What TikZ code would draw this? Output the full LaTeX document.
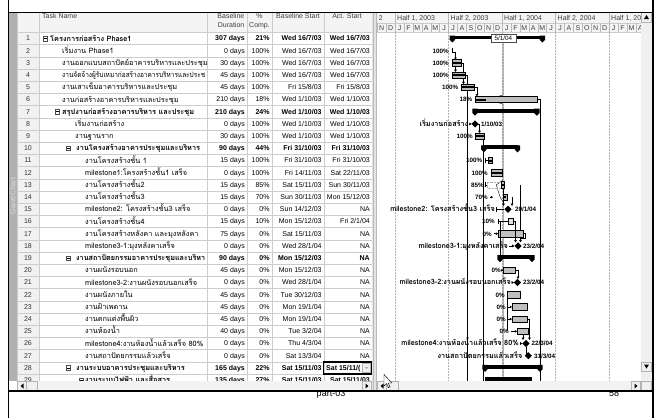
\documentclass[tikz,border=0pt]{standalone}
\usepackage{fontspec}
\usepackage{graphicx}
\setmainfont{Liberation Sans}
\newfontfamily\thai[Script=Thai]{Loma}
\usetikzlibrary{arrows.meta}
\newcommand\tsz{\fontsize{7}{8}\selectfont}
\newcommand\thsz{\fontsize{7.35}{9}\selectfont}
\newcommand\gsz{\fontsize{6.3}{7}\selectfont}
\newcommand\gthsz{\fontsize{7.3}{8}\selectfont}
% vertical centre of table row #1
\newcommand\Y[1]{26.3+#1*12.2}
% table row: number, text x, weight, name, duration, complete, baseline start, actual start
\newcommand\trow[8]{%
  \node[rnum] at (28,\Y{#1}) {#1};
  \begin{scope}
    \clip (39.5,\Y{#1}-6) rectangle (206.5,\Y{#1}+6);
    \node[tname] at (#2,\Y{#1}+2.6) {\thai\thsz #3{}#4};
  \end{scope}
  \node[tval] at (245,\Y{#1}+2.4) {#3{}#5};
  \node[tval] at (269.8,\Y{#1}+2.4) {#3{}#6};
  \node[tval] at (321.8,\Y{#1}+2.4) {#3{}#7};
  \node[tval] at (370,\Y{#1}+2.4) {#3{}#8};
}
% outline (collapse) box: row, x
\newcommand\obox[2]{%
  \draw[gray!60!black, line width=0.4, fill=white] (#2,\Y{#1}-2.3) rectangle (#2+4.6,\Y{#1}+2.3);
  \draw[black, line width=0.45] (#2+1.1,\Y{#1}) -- (#2+3.5,\Y{#1});
}
% summary bar: row, start, finish
\newcommand\sbar[3]{%
  \fill[black] (#2,\Y{#1}-3) rectangle (#3,\Y{#1}+0.8);
  \fill[black] (#2-2.7,\Y{#1}-3) -- (#2+2.7,\Y{#1}-3) -- (#2+2.7,\Y{#1}+1.3) -- (#2,\Y{#1}+4) -- (#2-2.7,\Y{#1}+1.3) -- cycle;
  \fill[black] (#3-2.7,\Y{#1}-3) -- (#3+2.7,\Y{#1}-3) -- (#3+2.7,\Y{#1}+1.3) -- (#3,\Y{#1}+4) -- (#3-2.7,\Y{#1}+1.3) -- cycle;
}
% task bar: row, start, finish, done fraction, fill
\newcommand\tbar[5]{%
  \filldraw[fill=#5, draw=black, line width=0.5] (#2,\Y{#1}-3.2) rectangle (#3,\Y{#1}+3.2);
  \fill[black] (#2,\Y{#1}-1) rectangle ({#2+#4*(#3-#2)},\Y{#1}+1);
}
% milestone diamond: row, x
\newcommand\mdia[2]{%
  \fill[black] (#2,\Y{#1}-3.6) -- (#2+3.6,\Y{#1}) -- (#2,\Y{#1}+3.6) -- (#2-3.6,\Y{#1}) -- cycle;
}
\begin{document}
\begin{tikzpicture}[x=1pt,y=-1pt,
  rnum/.style={font=\tsz, inner sep=0pt, text=black!80},
  tname/.style={inner sep=0pt, anchor=base west},
  tval/.style={font=\tsz, inner sep=0pt, anchor=base east},
  hd/.style={font=\tsz, inner sep=0pt, text=black!75},
  gridln/.style={gray!40, line width=0.4},
  glab/.style={font=\gsz\bfseries, inner sep=0pt, anchor=base east},
  gdate/.style={font=\gsz\bfseries, inner sep=0pt, anchor=base west},
  mlab/.style={font=\thai\gthsz\bfseries, inner sep=0pt, anchor=base east},
  link/.style={line width=0.45, -{Triangle[length=2.2pt,width=2.6pt]}},
  plain/.style={line width=0.45},
  dashgrid/.style={gray!60, line width=0.4, dash pattern=on 1.5pt off 1.5pt},
  sbtn/.style={fill=gray!12, draw=gray!60, line width=0.4},
]
\useasboundingbox (0,0) rectangle (663,418);
\fill[white] (0,0) rectangle (663,418);

% page footer, partly hidden under the screen shot
\node[font=\fontsize{9}{10}\selectfont, inner sep=0pt, anchor=base] (foot) at (331,396.3) {part-03};
\node[font=\fontsize{9}{10}\selectfont, inner sep=0pt, anchor=base] (pageno) at (614,396.3) {58};

% ---------- screen shot ----------
\fill[white] (8,12) rectangle (652,391);
% view bar
\fill[gray!62] (8,12) rectangle (17,381);
\node[rotate=90, font=\tsz, text=gray!25, inner sep=0pt] (view) at (12.8,196) {Gantt Chart};

% table header and row-number column
\fill[gray!9] (17,12) rectangle (372,32.4);
\fill[gray!11] (17,32.4) rectangle (39,381);
\foreach \k in {0,...,29} \draw[gridln] (17,32.4+\k*12.2) -- (372,32.4+\k*12.2);
\foreach \xx in {17,39,207,247,272,324,372} \draw[gridln] (\xx,12) -- (\xx,381);

\node[hd, anchor=base west] (h1) at (42,18.5) {Task Name};
\node[hd, anchor=base east] (h2) at (244.5,18.5) {Baseline};
\node[hd, anchor=base east] (h2b) at (244.5,27) {Duration};
\node[hd, anchor=base] (h3) at (259.5,18.5) {\%};
\node[hd, anchor=base] (h3b) at (259.5,27) {Comp.};
\node[hd, anchor=base] (h4) at (298,18.5) {Baseline Start};
\node[hd, anchor=base] (h5) at (347,18.5) {Act. Start};

% table rows
\trow{1}{50}{\bfseries}{โครงการก่อสร้าง Phase1}{307 days}{21\%}{Wed 16/7/03}{Wed 16/7/03}
\trow{2}{62}{}{เริ่มงาน Phase1}{0 days}{100\%}{Wed 16/7/03}{Wed 16/7/03}
\trow{3}{62}{}{งานออกแบบสถาปัตย์อาคารบริหารและประชุม}{30 days}{100\%}{Wed 16/7/03}{Wed 16/7/03}
\trow{4}{62}{}{\resizebox{143pt}{\height}{งานจัดจ้างผู้รับเหมาก่อสร้างอาคารบริหารและประช}}{45 days}{100\%}{Wed 16/7/03}{Wed 16/7/03}
\trow{5}{62}{}{งานเสาเข็มอาคารบริหารและประชุม}{45 days}{100\%}{Fri 15/8/03}{Fri 15/8/03}
\trow{6}{62}{}{งานก่อสร้างอาคารบริหารและประชุม}{210 days}{18\%}{Wed 1/10/03}{Wed 1/10/03}
\trow{7}{62}{\bfseries}{สรุปงานก่อสร้างอาคารบริหาร และประชุม}{210 days}{24\%}{Wed 1/10/03}{Wed 1/10/03}
\trow{8}{75}{}{เริ่มงานก่อสร้าง}{0 days}{100\%}{Wed 1/10/03}{Wed 1/10/03}
\trow{9}{75}{}{งานฐานราก}{30 days}{100\%}{Wed 1/10/03}{Wed 1/10/03}
\trow{10}{76}{\bfseries}{งานโครงสร้างอาคารประชุมและบริหาร}{90 days}{44\%}{Fri 31/10/03}{Fri 31/10/03}
\trow{11}{85}{}{งานโครงสร้างชั้น 1}{15 days}{100\%}{Fri 31/10/03}{Fri 31/10/03}
\trow{12}{85}{}{milestone1:โครงสร้างชั้น1 เสร็จ}{0 days}{100\%}{Fri 14/11/03}{Sat 22/11/03}
\trow{13}{85}{}{งานโครงสร้างชั้น2}{15 days}{85\%}{Sat 15/11/03}{Sun 30/11/03}
\trow{14}{85}{}{งานโครงสร้างชั้น3}{15 days}{70\%}{Sun 30/11/03}{Mon 15/12/03}
\trow{15}{85}{}{milestone2: โครงสร้างชั้น3 เสร็จ}{0 days}{0\%}{Sun 14/12/03}{NA}
\trow{16}{85}{}{งานโครงสร้างชั้น4}{15 days}{10\%}{Mon 15/12/03}{Fri 2/1/04}
\trow{17}{85}{}{งานโครงสร้างหลังคา และมุงหลังคา}{75 days}{0\%}{Sat 15/11/03}{NA}
\trow{18}{85}{}{milestone3-1:มุงหลังคาเสร็จ}{0 days}{0\%}{Wed 28/1/04}{NA}
\trow{19}{76}{\bfseries}{\resizebox{129pt}{\height}{งานสถาปัตยกรรมอาคารประชุมและบริหา}}{90 days}{0\%}{Mon 15/12/03}{NA}
\trow{20}{85}{}{งานผนังรอบนอก}{45 days}{0\%}{Mon 15/12/03}{NA}
\trow{21}{85}{}{milestone3-2:งานผนังรอบนอกเสร็จ}{0 days}{0\%}{Wed 28/1/04}{NA}
\trow{22}{85}{}{งานผนังภายใน}{45 days}{0\%}{Tue 30/12/03}{NA}
\trow{23}{85}{}{งานฝ้าเพดาน}{45 days}{0\%}{Mon 19/1/04}{NA}
\trow{24}{85}{}{งานตกแต่งพื้นผิว}{45 days}{0\%}{Mon 19/1/04}{NA}
\trow{25}{85}{}{งานห้องน้ำ}{40 days}{0\%}{Tue 3/2/04}{NA}
\trow{26}{85}{}{milestone4:งานห้องน้ำแล้วเสร็จ 80\%}{0 days}{0\%}{Thu 4/3/04}{NA}
\trow{27}{85}{}{งานสถาปัตยกรรมแล้วเสร็จ}{0 days}{0\%}{Sat 13/3/04}{NA}
\trow{28}{76}{\bfseries}{งานระบบอาคารประชุมและบริหาร}{165 days}{22\%}{Sat 15/11/03}{}
\trow{29}{85}{\bfseries}{งานระบบไฟฟ้า และสื่อสาร}{135 days}{27\%}{Sat 15/11/03}{Sat 15/11/03}
\obox{1}{43}
\obox{7}{55}
\obox{10}{66}
\obox{19}{66}
\obox{28}{66}
\obox{29}{79}

% selected cell with its drop-down button
\begin{scope}
  \clip (324,\Y{28}-6) rectangle (362,\Y{28}+6);
  \node[font=\tsz\bfseries, inner sep=0pt, anchor=base west] (sel) at (326,\Y{28}+2.4) {Sat 15/11/(};
\end{scope}
\draw[sbtn] (362.5,\Y{28}-4.5) rectangle (370.5,\Y{28}+4.5);
\fill[gray!60] (364.8,\Y{28}-0.8) -- (368.2,\Y{28}-0.8) -- (366.5,\Y{28}+1.2) -- cycle;
\draw[black, line width=1.3] (323.6,\Y{28}-6) rectangle (372,\Y{28}+6);

% splitter
\fill[gray!22] (372,12) rectangle (377,391);
\draw[gray!55, line width=0.4] (373.2,12) -- (373.2,391) (375.8,12) -- (375.8,391);

% ---------- Gantt chart ----------
\begin{scope}
\clip (377,12) rectangle (641,381);
\fill[gray!9] (377,12) rectangle (641,32.4);
\draw[gridln] (377,23) -- (641,23) (377,32.4) -- (641,32.4);
\node[hd, anchor=base west] (hprev) at (378.6,20.6) {2};
\foreach \xs/\lab in {395/{Half 1, 2003},448.5/{Half 2, 2003},502/{Half 1, 2004},555.5/{Half 2, 2004},609/{Half 1, 2005}}{
  \draw[gray!55, line width=0.4] (\xs,12) -- (\xs,23);
  \node[hd, anchor=base west] at (\xs+2,20.6) {\lab};
}
\foreach \m [count=\k from 0] in {N,D,J,F,M,A,M,J,J,A,S,O,N,D,J,F,M,A,M,J,J,A,S,O,N,D,J,F,M,A,M}{
  \draw[gray!55, line width=0.4] (377.2+\k*8.92,23) -- (377.2+\k*8.92,32.4);
  \node[hd, anchor=base] at (381.66+\k*8.92,30.6) {\m};
}
\foreach \xs in {395,448.5,502,555.5,609} \draw[dashgrid] (\xs,32.4) -- (\xs,381);

% long links
\draw[plain] (465.6,\Y{4}) -- (467.5,\Y{4}) -- (467.5,381);
\draw[plain] (483.6,\Y{9}+3) -- (483.6,381);
\draw[plain] (536.8,\Y{6}) -- (540,\Y{6}) -- (540,381);

% progress line up to the status date
\draw[gray!30!black, line width=0.5] (503.2,42) -- (503.2,\Y{6}-4.5) -- (486.1,\Y{6}) -- (503.2,\Y{6}+4.5)
  -- (503.2,\Y{13}-5) -- (496.3,\Y{13}) -- (500.1,\Y{14}) -- (503.2,\Y{14}+5) -- (503.2,381);

% phase 1
\sbar{1}{452.4}{542.4}
\node[glab] at (449,\Y{2}+2.3) {100\%};
\draw[plain] (452.4,\Y{2}-3) -- (452.4,\Y{2}+2) -- (455.5,\Y{2}+2);
\draw[link] (455.5,\Y{2}+2) -- (455.5,\Y{3}-3.2);
\node[glab] at (449,\Y{3}+2.3) {100\%};
\draw[link] (461.2,\Y{3}) -- (463.5,\Y{3}) -- (463.5,\Y{5}-3.2);
\tbar{3}{452.4}{461.2}{1}{gray!55}
\draw[link] (455.5,\Y{3}+3.2) -- (455.5,\Y{4}-3.2);
\node[glab] at (449,\Y{4}+2.3) {100\%};
\tbar{4}{452.4}{465.6}{1}{gray!55}
\node[glab] at (458.5,\Y{5}+2.3) {100\%};
\tbar{5}{461.2}{474.4}{1}{gray!55}
\draw[link] (474.4,\Y{5}) -- (477,\Y{5}) -- (477,\Y{6}-3.2);
\node[glab] at (472.5,\Y{6}+2.3) {18\%};
\tbar{6}{475}{536.8}{0.18}{gray!50}

% building works
\sbar{7}{475}{536.8}
\node[mlab] at (468.5,\Y{8}+2.3) {เริ่มงานก่อสร้าง};
\draw[link] (469.3,\Y{8}) -- (471.6,\Y{8});
\mdia{8}{475}
\node[gdate] at (481,\Y{8}+2.3) {1/10/03};
\draw[link] (478,\Y{8}) -- (479.5,\Y{8}) -- (479.5,\Y{9}-3.2);
\node[glab] at (473,\Y{9}+2.3) {100\%};
\tbar{9}{475}{483.8}{1}{gray!55}

% structure
\sbar{10}{483.8}{517.5}
\node[glab] at (482.5,\Y{11}+2.3) {100\%};
\draw[plain] (485,\Y{11}-2.5) -- (485,\Y{11}+2.5) (485,\Y{11}) -- (488,\Y{11});
\tbar{11}{488}{492}{1}{gray!55}
\node[glab] at (488,\Y{12}+2.3) {100\%};
\tbar{12}{490.8}{502}{1}{gray!55}
\node[glab] at (484,\Y{13}+2.3) {85\%};
\draw[plain] (485,\Y{13}-2.5) -- (485,\Y{13}+2.5) (485,\Y{13}) -- (487,\Y{13});
\draw[gray!60, line width=0.4, densely dotted] (487,\Y{13}-3.2) rectangle (501,\Y{13}+3.2);
\tbar{13}{501}{504.5}{0.85}{gray!55}
\node[glab] at (488,\Y{14}+2.3) {70\%};
\draw[link] (490,\Y{14}) -- (493,\Y{14});
\tbar{14}{503.5}{507}{0.7}{gray!55}
\draw[link] (503.5,\Y{13}+3.2) -- (503.5,\Y{15}-3.4);
\draw[link] (512,\Y{14}) -- (512,\Y{15}-3.4);
\node[mlab] at (495,\Y{15}+2.3) {milestone2: โครงสร้างชั้น3 เสร็จ};
\draw[plain] (496,\Y{15}-2.5) -- (496,\Y{15}+2.5) (496,\Y{15}) -- (504,\Y{15});
\mdia{15}{508}
\node[gdate] at (515,\Y{15}+2.3) {20/1/04};
\node[glab] at (495,\Y{16}+2.3) {10\%};
\draw[plain] (498,\Y{16}-2.5) -- (498,\Y{16}+2.5) (498,\Y{16}) -- (508,\Y{16});
\tbar{16}{508}{513}{0.1}{gray!25}
\draw[plain] (520,\Y{13}) -- (520,\Y{17});
\node[glab] at (492,\Y{17}+2.3) {0\%};
\draw[link] (493.5,\Y{17}) -- (498,\Y{17});
\tbar{17}{498}{523}{0}{gray!50}
\draw[link] (513,\Y{16}) -- (515.5,\Y{16}) -- (515.5,\Y{18}-3.6);
\draw[link] (523,\Y{17}) -- (525,\Y{17}) -- (525,\Y{17}+5) -- (520.5,\Y{17}+5) -- (520.5,\Y{18}-3.6);
\node[mlab] at (508,\Y{18}+2.3) {milestone3-1:มุงหลังคาเสร็จ};
\draw[link] (509,\Y{18}) -- (514.4,\Y{18});
\mdia{18}{518}
\node[gdate] at (523,\Y{18}+2.3) {23/2/04};
\draw[plain] (500,\Y{16}) -- (500,\Y{19});

% architecture
\sbar{19}{500}{532}
\node[glab] at (501,\Y{20}+2.3) {0\%};
\draw[link] (502,\Y{20}) -- (503.5,\Y{20});
\tbar{20}{503.5}{515.5}{0}{gray!50}
\draw[link] (515.5,\Y{20}) -- (518,\Y{20}) -- (518,\Y{21}-3.6);
\node[mlab] at (511,\Y{21}+2.3) {milestone3-2:งานผนังรอบนอกเสร็จ};
\draw[link] (511.5,\Y{21}) -- (513.9,\Y{21});
\mdia{21}{517.5}
\node[gdate] at (523,\Y{21}+2.3) {23/2/04};
\node[glab] at (505,\Y{22}+2.3) {0\%};
\tbar{22}{507}{520}{0}{gray!50}
\draw[plain] (507.5,\Y{22}+3.2) -- (507.5,\Y{25});
\node[glab] at (506,\Y{23}+2.3) {0\%};
\draw[link] (507.5,\Y{23}) -- (512,\Y{23});
\tbar{23}{512}{527}{0}{gray!50}
\node[glab] at (506,\Y{24}+2.3) {0\%};
\draw[link] (507.5,\Y{24}) -- (512,\Y{24});
\tbar{24}{512}{527}{0}{gray!50}
\node[glab] at (509,\Y{25}+2.3) {0\%};
\draw[link] (510.5,\Y{25}) -- (517,\Y{25});
\tbar{25}{517}{528}{0}{gray!50}
\draw[link] (527,\Y{24}) -- (529.5,\Y{24}) -- (529.5,\Y{26}-3.6);
\draw[link] (523,\Y{25}+3.2) -- (523,\Y{26}-3.6);
\node[mlab] at (519,\Y{26}+2.3) {milestone4:งานห้องน้ำแล้วเสร็จ 80\%};
\draw[link] (520,\Y{26}) -- (522.4,\Y{26});
\mdia{26}{526}
\node[gdate] at (531.5,\Y{26}+2.3) {22/3/04};
\draw[link] (526,\Y{26}+3.6) -- (526,\Y{27}-2) -- (528.3,\Y{27}-2);
\node[mlab] at (522.5,\Y{27}+2.3) {งานสถาปัตยกรรมแล้วเสร็จ};
\mdia{27}{528.3}
\node[gdate] at (534,\Y{27}+2.3) {31/3/04};

% services
\sbar{28}{485}{540}
\fill[black] (485,\Y{29}-3.2) rectangle (532,\Y{29}+3.2);
\end{scope}

% status date flag
\node[draw=gray!60!black, fill=white, font=\gsz, inner sep=0pt, minimum height=8, minimum width=25, line width=0.5] (status) at (503.3,38) {5/1/04};

% horizontal scroll bars
\fill[gray!10] (17,381) rectangle (372,391);
\draw[sbtn] (17.5,381.5) rectangle (26.5,390.5);
\fill[black] (20.5,386) -- (23.5,383.5) -- (23.5,388.5) -- cycle;
\draw[sbtn] (26.5,381.5) rectangle (37,390.5);
\draw[sbtn] (362.5,381.5) rectangle (371.5,390.5);
\fill[black] (368.5,386) -- (365.5,383.5) -- (365.5,388.5) -- cycle;
\fill[gray!10] (377,381) rectangle (641,391);
\draw[sbtn] (377.5,381.5) rectangle (386.5,390.5);
\fill[black] (380.5,386) -- (383.5,383.5) -- (383.5,388.5) -- cycle;
\draw[sbtn] (386.5,381.5) rectangle (398,390.5);
\draw[sbtn] (631.5,381.5) rectangle (640.5,390.5);
\fill[black] (637.5,386) -- (634.5,383.5) -- (634.5,388.5) -- cycle;

% vertical scroll bar
\fill[gray!12] (641,12) rectangle (652,391);
\draw[sbtn] (641.5,12.5) rectangle (651.5,22);
\fill[black] (646.5,15) -- (644,19) -- (649,19) -- cycle;
\draw[sbtn] (641.5,362) rectangle (651.5,371.5);
\fill[black] (646.5,368.5) -- (644,364.5) -- (649,364.5) -- cycle;
\draw[sbtn] (641.5,381.5) rectangle (651.5,390.5);

% mouse pointer
\filldraw[fill=white, draw=black, line width=0.45] (384,374.5) -- (384,386) -- (386.6,383.6) -- (388.4,387.6) -- (390,386.9) -- (388.3,383) -- (391.8,383) -- cycle;

% frame
\draw[black, line width=0.8] (8,12) -- (652,12);
\draw[black, line width=1.4] (8,391) -- (652,391);
\draw[black, line width=1.4] (8.3,0) -- (8.3,418);
\draw[black, line width=2] (652.5,0) -- (652.5,418);
\end{tikzpicture}
\end{document}
